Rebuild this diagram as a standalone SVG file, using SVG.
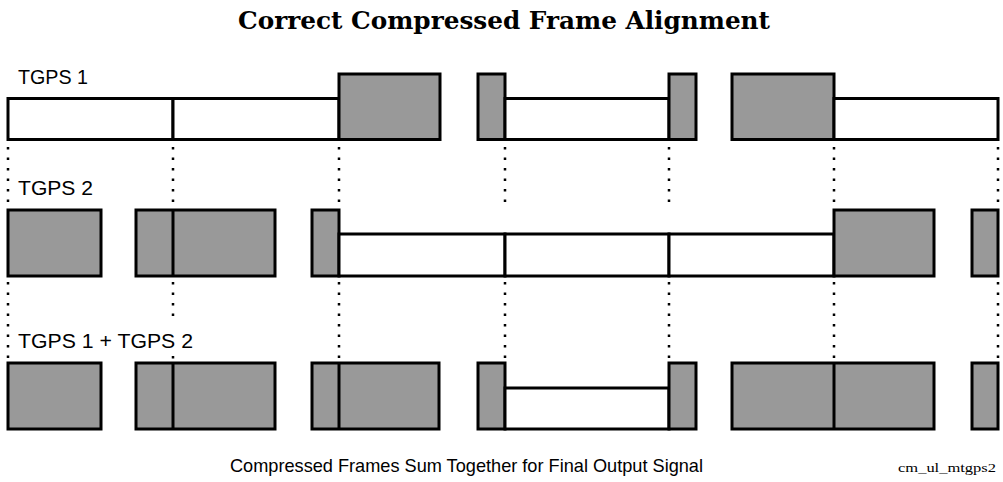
<svg xmlns="http://www.w3.org/2000/svg" width="1003" height="482" viewBox="0 0 1003 482">
<style>
.g{fill:#999999;stroke:#000;stroke-width:3}
.w{fill:#fff;stroke:#000;stroke-width:3}
.d{stroke:#000;stroke-width:2.5;stroke-dasharray:2.5 8;fill:none}
.lbl{font-family:"Liberation Sans",Arial,sans-serif;font-size:20px;fill:#000}
</style>
<rect width="1003" height="482" fill="#fff"/>
<text x="504" y="29" text-anchor="middle" font-family="DejaVu Serif,'Liberation Serif',serif" font-weight="bold" font-size="24" textLength="532" lengthAdjust="spacingAndGlyphs">Correct Compressed Frame Alignment</text>
<g id="connectors">
<path class="d" d="M8 147V208M173 147V208M339 147V208M505 147V208M669 147V208M834 147V208M998 147V208"/>
<path class="d" d="M8 282V360M173 282V316M173 356V360M339 282V360M505 282V358M669 282V358M834 282V360M998 282V360"/>
</g>
<g id="tgps1">
<text class="lbl" x="18" y="84" textLength="70" lengthAdjust="spacingAndGlyphs">TGPS 1</text>
<rect class="w" x="8" y="98.5" width="165" height="41"/>
<rect class="w" x="173" y="98.5" width="166" height="41"/>
<rect class="g" x="339" y="74" width="101" height="65.5"/>
<rect class="g" x="478" y="74" width="27" height="65.5"/>
<rect class="w" x="505" y="98.5" width="164" height="41"/>
<rect class="g" x="669" y="74" width="27" height="65.5"/>
<rect class="g" x="732" y="74" width="102" height="65.5"/>
<rect class="w" x="834" y="98.5" width="164" height="41"/>
</g>
<g id="tgps2">
<text class="lbl" x="18" y="195" textLength="75" lengthAdjust="spacingAndGlyphs">TGPS 2</text>
<rect class="g" x="8" y="210" width="93" height="66"/>
<rect class="g" x="136" y="210" width="139" height="66"/>
<path d="M173 210V276" stroke="#000" stroke-width="3"/>
<rect class="g" x="312" y="210" width="27" height="66"/>
<rect class="w" x="339" y="234" width="166" height="42"/>
<rect class="w" x="505" y="234" width="164" height="42"/>
<rect class="w" x="669" y="234" width="165" height="42"/>
<rect class="g" x="834" y="210" width="100" height="66"/>
<rect class="g" x="972" y="210" width="26" height="66"/>
</g>
<g id="sum">
<text class="lbl" x="18" y="348" textLength="175" lengthAdjust="spacingAndGlyphs">TGPS 1 + TGPS 2</text>
<rect class="g" x="8" y="363" width="93" height="66"/>
<rect class="g" x="136" y="363" width="139" height="66"/>
<path d="M173 363V429" stroke="#000" stroke-width="3"/>
<rect class="g" x="312" y="363" width="127" height="66"/>
<path d="M339 363V429" stroke="#000" stroke-width="3"/>
<rect class="g" x="478" y="363" width="27" height="66"/>
<rect class="w" x="505" y="388" width="164" height="41"/>
<rect class="g" x="669" y="363" width="27" height="66"/>
<rect class="g" x="732" y="363" width="202" height="66"/>
<path d="M834 363V429" stroke="#000" stroke-width="3"/>
<rect class="g" x="972" y="363" width="26" height="66"/>
</g>
<text x="230" y="472" font-family="'Liberation Sans',Arial,sans-serif" font-size="19" textLength="473" lengthAdjust="spacingAndGlyphs">Compressed Frames Sum Together for Final Output Signal</text>
<text x="898" y="472" font-family="'Liberation Serif','Times New Roman',serif" font-size="13" textLength="98" lengthAdjust="spacingAndGlyphs">cm_ul_mtgps2</text>
</svg>
